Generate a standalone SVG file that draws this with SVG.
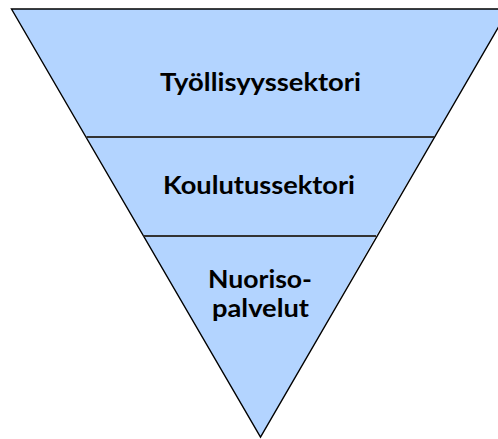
<svg xmlns="http://www.w3.org/2000/svg" width="498" height="439" viewBox="0 0 498 439">
<style>
.seg{fill:#b3d4ff;stroke:none}
.edge{fill:none;stroke:#000;stroke-width:1.4}
.div{stroke:#333;stroke-width:2}
.lbl{font-family:Lato,"Open Sans",sans-serif;font-weight:bold;font-size:24px;fill:#000;text-anchor:middle}
</style>
<rect width="498" height="439" fill="#fff"/>
<g id="tyollisyyssektori">
<polygon class="seg" points="11.5,9 509,9 434,137 86.5,137"/>
<text class="lbl" x="260.5" y="91" textLength="201" lengthAdjust="spacingAndGlyphs">Työllisyyssektori</text>
</g>
<g id="koulutussektori">
<polygon class="seg" points="86.5,137 434,137 376,236 143.5,236"/>
<text class="lbl" x="259" y="194" textLength="192" lengthAdjust="spacingAndGlyphs">Koulutussektori</text>
</g>
<g id="nuorisopalvelut">
<polygon class="seg" points="143.5,236 376,236 260.5,437"/>
<text class="lbl"><tspan x="260" y="287.5" textLength="104" lengthAdjust="spacingAndGlyphs">Nuoriso-</tspan><tspan x="260.5" y="317" textLength="97" lengthAdjust="spacingAndGlyphs">palvelut</tspan></text>
</g>
<g id="connectors">
<polyline class="edge" points="509,9 11.5,9 260.5,437 509,9"/>
<line class="div" x1="86.5" y1="137" x2="434" y2="137"/>
<line class="div" x1="143.5" y1="236" x2="376" y2="236"/>
</g>
</svg>
